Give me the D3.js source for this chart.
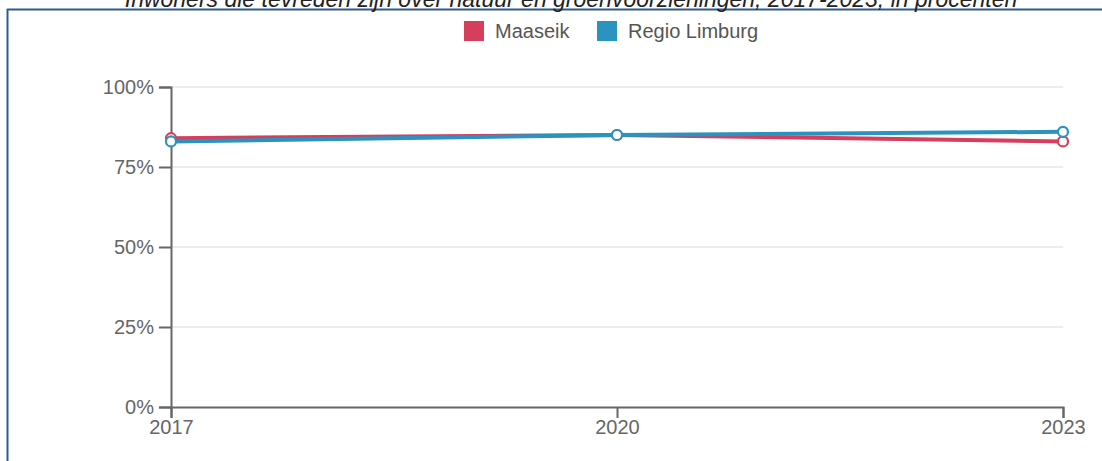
<!DOCTYPE html>
<html>
<head>
<meta charset="utf-8">
<script src="https://cdn.jsdelivr.net/npm/d3@7"></script>
<style>
  body { margin: 0; background: #fff; font-family: "Liberation Sans", Arial, sans-serif; }
  svg { display: block; }
  .axis text { font-size: 20px; fill: #666; font-family: "Liberation Sans", Arial, sans-serif; }
  .axis path, .axis line { stroke: #666; stroke-width: 2; }
  .grid line { stroke: #e6e6e6; stroke-width: 1.5; }
  .legend text { font-size: 20px; fill: #555; }
</style>
</head>
<body>
<svg id="chart" width="1102" height="461"></svg>
<script>
// data
const years = ['2017', '2020', '2023'];
const maaseik = [84, 85, 83];
const regioLimburg = [83, 85, 86];
const yTicks = [0, 25, 50, 75, 100];
const seriesNames = ['Maaseik', 'Regio Limburg'];
const seriesColors = ['#d63e5e', '#2b93c0'];

const width = 1102, height = 461;
const margin = { top: 87, right: 39, bottom: 54, left: 171 };
const chartWidth = width - margin.left - margin.right;
const chartHeight = height - margin.top - margin.bottom;

const svg = d3.select('#chart');

// frame (only top and left visible in the picture)
svg.append('line').attr('x1', 7).attr('x2', width).attr('y1', 9.5).attr('y2', 9.5)
  .attr('stroke', '#2f5a8f').attr('stroke-width', 2);
svg.append('line').attr('x1', 7.5).attr('x2', 7.5).attr('y1', 9).attr('y2', height)
  .attr('stroke', '#2f5a8f').attr('stroke-width', 2);

// title, partly cut off at the top
svg.append('text')
  .attr('x', 571).attr('y', 6.5)
  .attr('text-anchor', 'middle')
  .style('font-size', '23px')
  .style('font-style', 'italic')
  .style('fill', '#222')
  .text('Inwoners die tevreden zijn over natuur en groenvoorzieningen, 2017-2023, in procenten');

const chart = svg.append('g').attr('transform', `translate(${margin.left}, ${margin.top})`);

const xScale = d3.scalePoint().domain(years).range([0, chartWidth]);
const yScale = d3.scaleLinear().domain([0, 100]).range([chartHeight, 0]);

// gridlines
chart.append('g').attr('class', 'grid')
  .selectAll('line').data(yTicks.filter(d => d > 0)).enter().append('line')
  .attr('x1', 0).attr('x2', chartWidth)
  .attr('y1', d => yScale(d)).attr('y2', d => yScale(d));

// axes
chart.append('g').attr('class', 'axis')
  .attr('transform', `translate(0, ${chartHeight})`)
  .call(d3.axisBottom(xScale).tickSizeOuter(0).tickSize(11).tickPadding(2));

chart.append('g').attr('class', 'axis')
  .call(d3.axisLeft(yScale).tickValues(yTicks).tickFormat(d => d + '%').tickSizeOuter(0).tickSize(12).tickPadding(5));

// lines
const series = [maaseik, regioLimburg];
const line = d3.line().x((d, i) => xScale(years[i])).y(d => yScale(d));

series.forEach((vals, s) => {
  chart.append('path')
    .datum(vals)
    .attr('fill', 'none')
    .attr('stroke', seriesColors[s])
    .attr('stroke-width', 4)
    .attr('d', line);
});
series.forEach((vals, s) => {
  chart.selectAll(`.pt${s}`)
    .data(vals).enter().append('circle')
    .attr('cx', (d, i) => xScale(years[i]))
    .attr('cy', d => yScale(d))
    .attr('r', 5)
    .attr('fill', '#fff')
    .attr('stroke', seriesColors[s])
    .attr('stroke-width', 2.2);
});

// legend
const legendX = [464, 597];
const legend = svg.append('g').attr('class', 'legend');
seriesNames.forEach((name, i) => {
  legend.append('rect')
    .attr('x', legendX[i]).attr('y', 21)
    .attr('width', 20).attr('height', 20)
    .attr('fill', seriesColors[i]);
  legend.append('text')
    .attr('x', legendX[i] + 31).attr('y', 38)
    .text(name);
});
</script>
</body>
</html>
